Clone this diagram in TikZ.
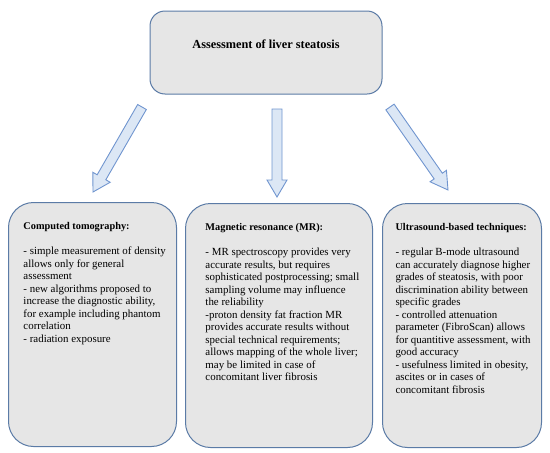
\documentclass[tikz,border=0pt]{standalone}
\usepackage{fontspec}
\setmainfont{Liberation Serif}
\usetikzlibrary{positioning,calc}

\definecolor{boxline}{HTML}{5B7BA6}
\definecolor{boxfill}{HTML}{E6E6E6}
\definecolor{arrowline}{HTML}{7095CF}
\definecolor{arrowfill}{HTML}{DCE7F5}

% text block: left indent, width, lines
\newcommand{\boxtext}[3]{\hspace*{#1}\begin{minipage}[c][244pt][t]{#2}\raggedright\vspace*{20pt}#3\end{minipage}}
\newcommand{\boxhead}[1]{{\fontsize{10.3}{12.5}\selectfont\bfseries #1}}

% fat arrow from tail coordinate to tip coordinate
\newcommand{\fatarrow}[2]{%
\draw[bigarrow] let \p1=($(#2)-(#1)$), \n1={atan2(\y1,\x1)}, \n2={veclen(\x1,\y1)-17} in
  ($(#1)+(\n1+90:5pt)$) -- ($(#1)+(\n1:\n2)+(\n1+90:5pt)$)
  -- ($(#1)+(\n1:\n2)+(\n1+90:10pt)$) -- (#2)
  -- ($(#1)+(\n1:\n2)+(\n1-90:10pt)$) -- ($(#1)+(\n1:\n2)+(\n1-90:5pt)$)
  -- ($(#1)+(\n1-90:5pt)$) -- cycle;}

\begin{document}
\begin{tikzpicture}[x=1pt, y=-1pt,
titlebox/.style={draw=boxline, fill=boxfill, line width=1pt, rounded corners=15pt, inner sep=0pt,
  minimum width=232pt, minimum height=83pt, font=\fontsize{12.3}{14}\selectfont\bfseries},
infobox/.style={draw=boxline, fill=boxfill, line width=1pt, rounded corners=25pt, inner sep=0pt,
  anchor=north west, font=\fontsize{10.9}{12.5}\selectfont},
bigarrow/.style={draw=arrowline, fill=arrowfill, line width=0.9pt, line join=miter}]

\useasboundingbox (0,0) rectangle (550,453);

\node[titlebox] (top) at (266,52.5) {\raisebox{4pt}[0pt][0pt]{Assessment of liver steatosis}};

\node[infobox] (ct) at (8,202) {\boxtext{15pt}{153pt}{%
\boxhead{Computed tomography:}\\[12.5pt]
- simple measurement of density\\
allows only for general\\
assessment\\
- new algorithms proposed to\\
increase the diagnostic ability,\\
for example including phantom\\
correlation\\
- radiation exposure}};

\node[infobox] (mr) at (185,203) {\boxtext{20pt}{167pt}{%
\boxhead{Magnetic resonance (MR):}\\[12.5pt]
- MR spectroscopy provides very\\
accurate results, but requires\\
sophisticated postprocessing; small\\
sampling volume may influence\\
the reliability\\
-proton density fat fraction MR\\
provides accurate results without\\
special technical requirements;\\
allows mapping of the whole liver;\\
may be limited in case of\\
concomitant liver fibrosis}};

\node[infobox] (us) at (382,203) {\boxtext{13pt}{146pt}{%
\boxhead{Ultrasound-based techniques:}\\[12.5pt]
- regular B-mode ultrasound\\
can accurately diagnose higher\\
grades of steatosis, with poor\\
discrimination ability between\\
specific grades\\
- controlled attenuation\\
parameter (FibroScan) allows\\
for quantitive assessment, with\\
good accuracy\\
- usefulness limited in obesity,\\
ascites or in cases of\\
concomitant fibrosis}};

\coordinate (ct-tail) at (142,107);
\coordinate (ct-tip) at (93,192);
\coordinate (mr-tail) at (277,109);
\coordinate (mr-tip) at (277,197);
\coordinate (us-tail) at (390,107);
\coordinate (us-tip) at (448,190);

\fatarrow{ct-tail}{ct-tip}
\fatarrow{mr-tail}{mr-tip}
\fatarrow{us-tail}{us-tip}

\end{tikzpicture}
\end{document}
